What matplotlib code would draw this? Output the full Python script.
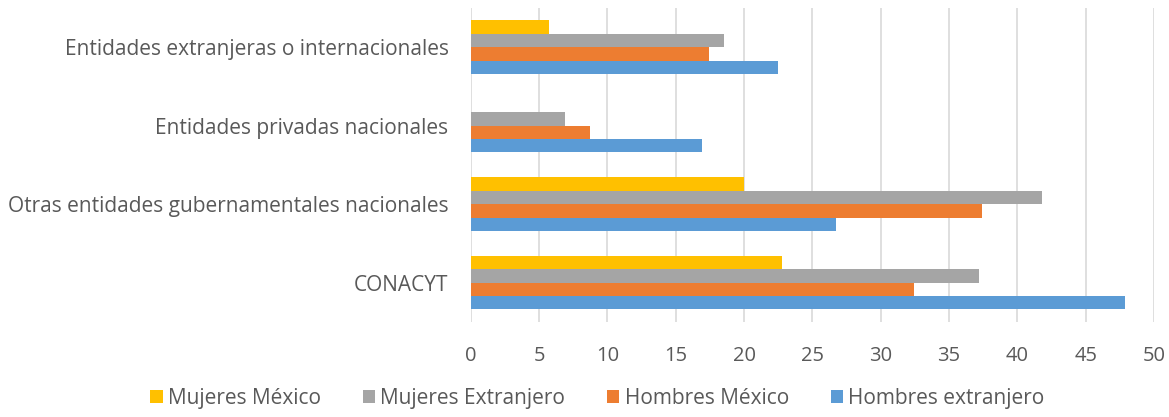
import numpy as np
import matplotlib
matplotlib.use('Agg')
import matplotlib.pyplot as plt

categories = ["CONACYT", "Otras entidades gubernamentales nacionales",
              "Entidades privadas nacionales", "Entidades extranjeras o internacionales"]
hombres_extranjero = [47.9, 26.7, 16.9, 22.5]
hombres_mexico = [32.4, 37.4, 8.7, 17.45]
mujeres_extranjero = [37.2, 41.8, 6.9, 18.55]
mujeres_mexico = [22.8, 20.0, 0, 5.7]
x_ticks = [0, 5, 10, 15, 20, 25, 30, 35, 40, 45, 50]

series = [
    ("Hombres extranjero", hombres_extranjero, "#5B9BD5"),
    ("Hombres México", hombres_mexico, "#ED7D31"),
    ("Mujeres Extranjero", mujeres_extranjero, "#A5A5A5"),
    ("Mujeres México", mujeres_mexico, "#FFC000"),
]

text_color = "#595959"
plt.rcParams['font.family'] = ['Open Sans', 'DejaVu Sans']

fig = plt.figure(figsize=(11.69, 4.17), dpi=100)
ax = fig.add_axes([0.4027, 0.228, 0.5845, 0.753])

y = np.arange(len(categories))
h = 0.17
handles = []
for i, (name, vals, color) in enumerate(series):
    b = ax.barh(y + (i - 1.5) * h, vals, height=h, color=color, label=name, zorder=3)
    handles.append(b)

ax.set_xlim(0, 50)
ax.set_ylim(-0.5, 3.5)
ax.set_xticks(x_ticks)
ax.set_xticklabels([str(t) for t in x_ticks], fontsize=14.5, color=text_color)
ax.set_yticks(y)
ax.set_yticklabels(categories, fontsize=15, color=text_color)
ax.tick_params(axis='both', length=0)
ax.tick_params(axis='x', pad=17)
ax.tick_params(axis='y', pad=16)
ax.grid(axis='x', color='#D9D9D9', linewidth=1.2, zorder=0)
for s in ax.spines.values():
    s.set_visible(False)

leg = fig.legend(handles[::-1], [s[0] for s in series][::-1], loc='center',
                 bbox_to_anchor=(0.511, 0.045), ncol=4, frameon=False,
                 fontsize=15, handlelength=0.6, handleheight=0.6,
                 handletextpad=0.25, columnspacing=2.0)
for t in leg.get_texts():
    t.set_color(text_color)

fig.savefig("out.png", dpi=100)
